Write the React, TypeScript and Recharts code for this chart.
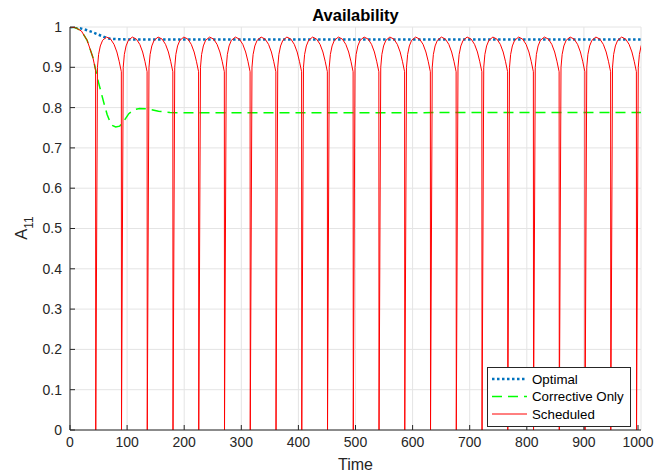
import { CartesianGrid, Legend, Line, LineChart, XAxis, YAxis } from "recharts";

const FONT = '"Liberation Sans", Arial, Helvetica, sans-serif';
const INK = "#262626";

const X_TICKS = [0, 100, 200, 300, 400, 500, 600, 700, 800, 900, 1000];
const Y_TICKS = [0, 0.1, 0.2, 0.3, 0.4, 0.5, 0.6, 0.7, 0.8, 0.9, 1];

// Optimal
const OPTIMAL_T = [0, 10, 20, 30, 40, 50, 60, 70, 80, 100, 1000];
const OPTIMAL_A = [1, 0.999, 0.996, 0.992, 0.987, 0.981, 0.975, 0.971, 0.97, 0.969, 0.969];

// Corrective Only
const CORRECTIVE_T = [0, 10, 20, 30, 40, 45, 50, 55, 60, 65, 70, 75, 80, 87, 95, 103, 112, 122, 135, 155, 175, 200, 1000];
const CORRECTIVE_A = [1, 0.998, 0.99, 0.967, 0.925, 0.893, 0.862, 0.835, 0.808, 0.783, 0.765, 0.755, 0.752, 0.754, 0.768, 0.785, 0.795, 0.798, 0.797, 0.791, 0.788, 0.787, 0.788];

// Scheduled: first stretch, then the same maintenance cycle after every drop
const SCHED_FIRST_T = [0, 10, 20, 30, 40, 44.8];
const SCHED_FIRST_A = [1, 0.998, 0.99, 0.967, 0.925, 0.893];
const SCHED_DROPS = [45.1, 90.2, 135.3, 180.4, 225.5, 270.6, 315.7, 360.8, 405.9, 451.0, 496.1, 541.2, 586.3, 631.4, 676.5, 721.6, 766.7, 811.8, 856.9, 902.0, 947.1, 992.2];
const CYCLE_DT = [0, 3, 5, 8, 12, 19, 26, 32, 37, 41, 44.8];
const CYCLE_A = [0, 0.9, 0.932, 0.953, 0.967, 0.975, 0.97, 0.957, 0.938, 0.915, 0.889];

const zip = (ts: number[], as: number[]) => ts.map((t, i) => ({ t, a: as[i] }));

const optimalData = zip(OPTIMAL_T, OPTIMAL_A);
const correctiveData = zip(CORRECTIVE_T, CORRECTIVE_A);
const scheduledData = [
  ...zip(SCHED_FIRST_T, SCHED_FIRST_A),
  ...SCHED_DROPS.flatMap((d) => CYCLE_DT.map((dt, i) => ({ t: d + dt, a: CYCLE_A[i] }))),
];

const SERIES = [
  { name: "Optimal", color: "#0072BD", width: 2.5, dash: "2.5 2.5" },
  { name: "Corrective Only", color: "#00FF00", width: 1.5, dash: "10 6" },
  { name: "Scheduled", color: "#FF0000", width: 1, dash: undefined as string | undefined },
];

function XTick({ x, y, payload }: any) {
  return (
    <g>
      <line x1={x} y1={y} x2={x} y2={y - 5} stroke={INK} />
      <text x={x} y={y + 17} textAnchor="middle" fill={INK} fontSize={14} fontFamily={FONT}>
        {payload.value}
      </text>
    </g>
  );
}

function YTick({ x, y, payload }: any) {
  return (
    <g>
      <line x1={x} y1={y} x2={x + 5} y2={y} stroke={INK} />
      <text x={x - 8} y={y} dy="0.35em" textAnchor="end" fill={INK} fontSize={14} fontFamily={FONT}>
        {payload.value}
      </text>
    </g>
  );
}

function LegendBox() {
  return (
    <div style={{ width: 142, height: 58, border: `1px solid ${INK}`, background: "#fff" }}>
      <svg width={142} height={58} style={{ display: "block" }}>
        {SERIES.map((s, i) => {
          const y = 11 + i * 17.5;
          return (
            <g key={s.name}>
              <line x1={4} x2={39} y1={y} y2={y} stroke={s.color} strokeWidth={s.width} strokeDasharray={s.dash} />
              <text x={44} y={y} dy="0.35em" fontSize={13.3} fontFamily={FONT} fill="#000">
                {s.name}
              </text>
            </g>
          );
        })}
      </svg>
    </div>
  );
}

export default function App() {
  return (
    <div style={{ position: "absolute", left: 0, top: 0, width: 654, height: 475, background: "#fff" }}>
      <div
        style={{
          position: "absolute",
          left: 70,
          width: 571,
          top: 5,
          textAlign: "center",
          fontFamily: FONT,
          fontWeight: "bold",
          fontSize: 16.5,
          lineHeight: "20px",
          color: "#000",
        }}
      >
        Availability
      </div>
      <div
        style={{
          position: "absolute",
          left: 27,
          top: 228,
          width: 0,
          height: 0,
          zIndex: 1,
          pointerEvents: "none",
        }}
      >
        <div
          style={{
            position: "absolute",
            left: 0,
            top: 0,
            transformOrigin: "0 0",
            transform: "rotate(-90deg) translate(-50%, -15px)",
            whiteSpace: "nowrap",
            fontFamily: FONT,
            fontSize: 16.5,
            lineHeight: "19px",
            color: INK,
          }}
        >
          A<sub style={{ fontSize: 12, verticalAlign: "-6px", lineHeight: 0 }}>11</sub>
        </div>
      </div>
      <LineChart width={654} height={475} margin={{ top: 27, right: 13, left: 0, bottom: 0 }}>
        <CartesianGrid stroke="#e4e4e4" />
        <XAxis
          dataKey="t"
          type="number"
          domain={[0, 1000]}
          ticks={X_TICKS}
          allowDataOverflow
          height={45}
          tickSize={0}
          tickMargin={0}
          tick={<XTick />}
          axisLine={{ stroke: INK }}
          label={{ value: "Time", position: "insideBottom", offset: 5, fill: INK, fontSize: 16, fontFamily: FONT }}
        />
        <YAxis
          type="number"
          domain={[0, 1]}
          ticks={Y_TICKS}
          allowDataOverflow
          width={70}
          tickSize={0}
          tickMargin={0}
          tick={<YTick />}
          axisLine={{ stroke: INK }}
        />
        {SERIES.map((s, i) => (
          <Line
            key={s.name}
            data={[optimalData, correctiveData, scheduledData][i]}
            dataKey="a"
            name={s.name}
            type="linear"
            stroke={s.color}
            strokeWidth={s.width}
            strokeDasharray={s.dash}
            dot={false}
            activeDot={false}
            isAnimationActive={false}
          />
        ))}
        <Legend
          layout="vertical"
          align="center"
          verticalAlign="middle"
          content={<LegendBox />}
          wrapperStyle={{ left: 487, top: 367, width: 144, height: 60 }}
        />
      </LineChart>
    </div>
  );
}
